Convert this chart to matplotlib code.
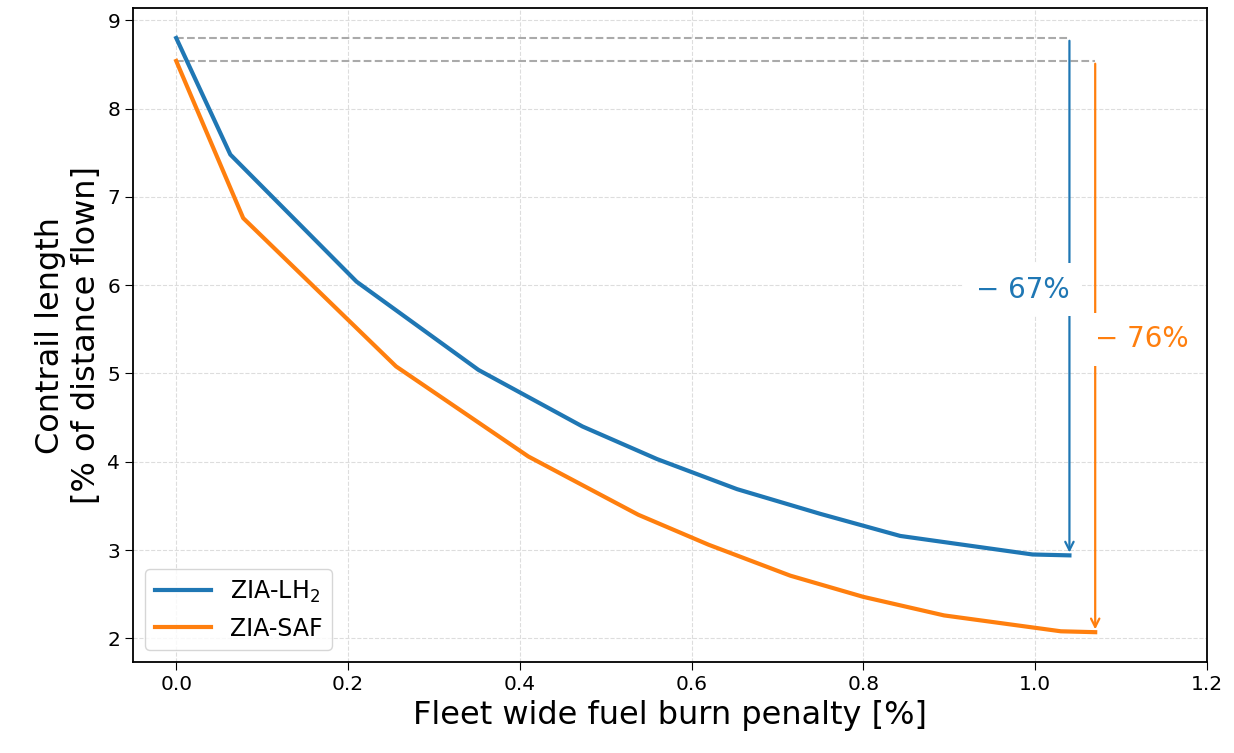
import numpy as np
import matplotlib
matplotlib.use("Agg")
import matplotlib.pyplot as plt

# fleet wide fuel burn penalty [%] vs contrail length [% of distance flown]
lh2_penalty = [0.0, 0.063, 0.21, 0.352, 0.473, 0.56, 0.653, 0.75, 0.843, 0.997, 1.04]
lh2_contrail = [8.80, 7.48, 6.04, 5.04, 4.40, 4.03, 3.69, 3.41, 3.16, 2.95, 2.94]

saf_penalty = [0.0, 0.078, 0.256, 0.41, 0.538, 0.62, 0.715, 0.80, 0.894, 1.03, 1.07]
saf_contrail = [8.54, 6.76, 5.08, 4.06, 3.40, 3.06, 2.71, 2.47, 2.26, 2.08, 2.07]

lh2_label = "ZIA-LH$_2$"
saf_label = "ZIA-SAF"

blue = "#1f77b4"
orange = "#ff7f0e"

fig = plt.figure(figsize=(12.34, 7.53), dpi=100)
ax = fig.add_axes([0.108, 0.121, 0.87, 0.868])

ax.plot(lh2_penalty, lh2_contrail, color=blue, lw=3, label=lh2_label)
ax.plot(saf_penalty, saf_contrail, color=orange, lw=3, label=saf_label)

# reference lines from the starting value
ax.plot([0, lh2_penalty[-1]], [lh2_contrail[0]] * 2, "--", color="#aaaaaa", lw=1.5, zorder=1)
ax.plot([0, saf_penalty[-1]], [saf_contrail[0]] * 2, "--", color="#aaaaaa", lw=1.5, zorder=1)

def reduction_arrow(x, y0, y1, color, ytext, ha):
    ax.annotate("", xy=(x, y1), xytext=(x, y0),
                arrowprops=dict(arrowstyle="->", color=color, lw=1.6, mutation_scale=15))
    red = (y0 - y1) / y0 * 100
    ax.text(x, ytext, "\u2212 %d%%" % round(red), color=color, fontsize=20,
            ha=ha, va="center",
            bbox=dict(facecolor="white", edgecolor="none", pad=9))

reduction_arrow(lh2_penalty[-1], lh2_contrail[0], lh2_contrail[-1], blue, 5.95, "right")
reduction_arrow(saf_penalty[-1], saf_contrail[0], saf_contrail[-1], orange, 5.39, "left")

ax.set_xlim(-0.05, 1.2)
ax.set_xticks(np.arange(0, 1.21, 0.2))
ax.set_yticks(range(2, 10))
ax.tick_params(labelsize=14.5, length=6)
ax.grid(True, ls="--", color="#dddddd", lw=0.8)
ax.set_axisbelow(True)

ax.set_xlabel("Fleet wide fuel burn penalty [%]", fontsize=23)
ax.set_ylabel("Contrail length\n[% of distance flown]", fontsize=23)
for s in ax.spines.values():
    s.set_linewidth(1.3)

ax.legend(loc="lower left", fontsize=17, handlelength=2.4)

fig.savefig("out.png", dpi=100)
